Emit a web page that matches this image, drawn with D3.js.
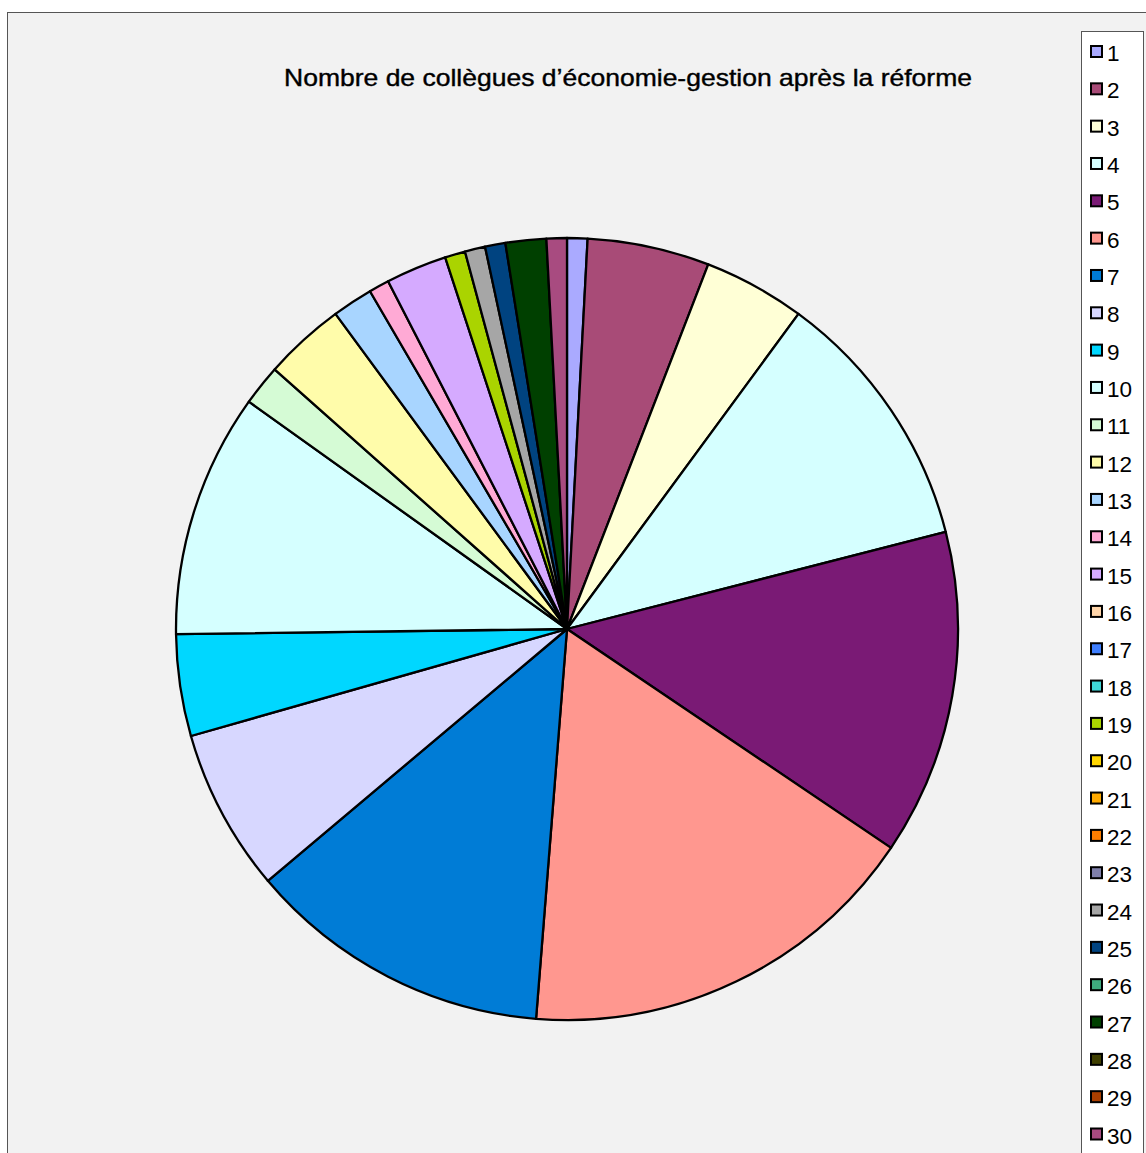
<!DOCTYPE html>
<html>
<head>
<meta charset="utf-8">
<script src="https://cdn.jsdelivr.net/npm/d3@7"></script>
<style>
  html, body { margin: 0; padding: 0; background: #ffffff; }
  svg { display: block; }
</style>
</head>
<body>
<svg id="chart" width="1146" height="1153"></svg>
<script>
const title = "Nombre de collègues d’économie-gestion après la réforme";
const categories = ["1","2","3","4","5","6","7","8","9","10","11","12","13","14","15","16","17","18","19","20","21","22","23","24","25","26","27","28","29","30"];
const values = [1,6,5,13,16,20,15,8,5,12,2,4,2,1,3,0,0,0,1,0,0,0,0,1,1,0,2,0,0,1];
const colors = ["#AAAAFF","#A84B77","#FFFFD6","#D5FFFF","#7A1A75","#FF978F","#007CD6","#D7D7FF","#00D7FF","#D5FFFF","#D5FBD5","#FFFCAA","#A8D5FF","#FFAAD5","#D5AAFF","#FFD5AA","#3F7FFF","#3FD5D5","#AAD400","#FFD500","#FFAA00","#FF7F00","#7F7FAA","#A6A6A6","#004380","#3FAA7F","#004000","#3F3F00","#AA3F00","#A84B80"];

const svg = d3.select("#chart");

// chart area background + frame
svg.append("rect")
  .attr("x", 7.5).attr("y", 12.5)
  .attr("width", 1146).attr("height", 1150)
  .attr("fill", "#F2F2F2")
  .attr("stroke", "#555555").attr("stroke-width", 1);

// title
svg.append("text")
  .attr("x", 628).attr("y", 86)
  .attr("text-anchor", "middle")
  .attr("font-family", "Liberation Sans, Arial, sans-serif")
  .attr("font-size", 24)
  .attr("textLength", 688)
  .attr("lengthAdjust", "spacingAndGlyphs")
  .attr("fill", "#000")
  .attr("stroke", "#000").attr("stroke-width", 0.4)
  .text(title);

// pie
const cx = 567, cy = 629, r = 391;
const data = categories.map((c, i) => ({ cat: c, value: values[i], color: colors[i] }));
const pie = d3.pie().sort(null).value(d => d.value).startAngle(0).endAngle(2 * Math.PI);
const arc = d3.arc().innerRadius(0).outerRadius(r);

svg.append("g")
  .attr("transform", `translate(${cx},${cy})`)
  .selectAll("path")
  .data(pie(data).filter(d => d.data.value > 0))
  .join("path")
  .attr("d", arc)
  .attr("fill", d => d.data.color)
  .attr("stroke", "#000")
  .attr("stroke-width", 2.3)
  .attr("stroke-linejoin", "round");

// legend
const lg = svg.append("g");
lg.append("rect")
  .attr("x", 1081.5).attr("y", 31.5)
  .attr("width", 62).attr("height", 1140)
  .attr("fill", "#ffffff")
  .attr("stroke", "#555555").attr("stroke-width", 1);

const ly = d3.scalePoint().domain(categories).range([52, 1134.5]);

const items = lg.selectAll("g.item")
  .data(data)
  .join("g")
  .attr("class", "item")
  .attr("transform", d => `translate(0,${ly(d.cat)})`);

items.append("rect")
  .attr("x", 1091).attr("y", -6)
  .attr("width", 11).attr("height", 11)
  .attr("fill", d => d.color)
  .attr("stroke", "#000").attr("stroke-width", 2);

items.append("text")
  .attr("x", 1107).attr("y", 9)
  .attr("font-family", "Liberation Sans, Arial, sans-serif")
  .attr("font-size", 22.5)
  .attr("fill", "#000")
  .text(d => d.cat);
</script>
</body>
</html>
